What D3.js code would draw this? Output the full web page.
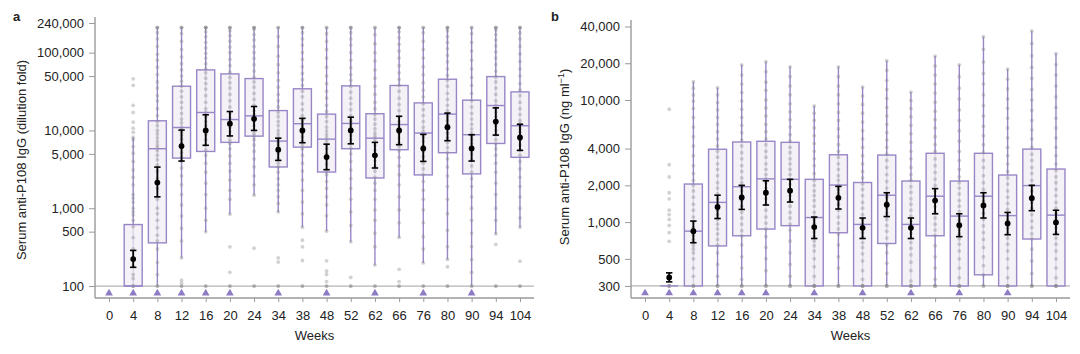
<!DOCTYPE html>
<html>
<head>
<meta charset="utf-8">
<style>
  html, body { margin: 0; padding: 0; background: #fff; }
  svg text { font-family: "Liberation Sans", Arial, sans-serif; fill: #222; }
</style>
</head>
<body>
<svg id="svg" width="1080" height="354"></svg>
<script src="https://cdn.jsdelivr.net/npm/d3@7"></script>
<script>
const weeks = [0, 4, 8, 12, 16, 20, 24, 34, 38, 48, 52, 62, 66, 76, 80, 90, 94, 104]
const belowLimitWeeks = [0, 4, 8, 12, 16, 20, 34, 48, 62, 76, 90]

// panel a: dilution fold
const aTicks = [100, 500, 1000, 5000, 10000, 50000, 100000, 240000]
const aQ1 = [null, 100, 359, 4410, 5370, 7020, 8450, 3390, 6100, 2920, 5820, 2450, 5650, 2680, 5170, 2760, 6800, 4510]
const aMedian = [null, 100, 5820, 10900, 17000, 13800, 15400, 7300, 12200, 7730, 12300, 7950, 11900, 9250, 16200, 8810, 20900, 11500]
const aQ3 = [null, 617, 13300, 37000, 60000, 53300, 46400, 18000, 34300, 16200, 37400, 16400, 37800, 22600, 45500, 24500, 49200, 31300]
const aWhiskerLo = [null, 100, 100, 230, 497, 837, 1470, 897, 570, 507, 370, 186, 421, 198, 220, 100, 468, 570]
const aWhiskerHi = [null, 8200, 210000, 210000, 210000, 210000, 210000, 210000, 210000, 210000, 210000, 210000, 210000, 210000, 210000, 210000, 210000, 210000]
const aMean = [null, 222, 2140, 6300, 10000, 12200, 14100, 5650, 10000, 4550, 10000, 4790, 10000, 5880, 11000, 5880, 13000, 8120]
const aCiLo = [null, 174, 1400, 4040, 6440, 8500, 10000, 4120, 6950, 3130, 6740, 3290, 6560, 4000, 7380, 4040, 8710, 5540]
const aCiHi = [null, 287, 3380, 10100, 15900, 17500, 20300, 7950, 14300, 6660, 14800, 7020, 15200, 8890, 16700, 8810, 19500, 12000]
const aPoints = [
  [],
  [46000, 38000, 21000, 17000, 12800, 10700, 9500, 8200, 7600, 6200, 5100, 4000, 3100, 2500, 2000, 1500, 1350, 1200, 1000, 900, 820, 700, 580, 420, 300, 230, 180, 140, 125, 100, 100, 100],
  [210000, 210000, 210000, 180000, 150000, 120000, 95000, 80000, 65000, 52000, 42000, 35000, 28000, 24000, 19000, 15500, 13000, 11500, 10000, 9000, 8000, 7200, 6500, 6000, 5500, 4800, 4200, 3600, 3000, 2400, 1800, 1300, 1000, 850, 700, 560, 450, 380, 300, 200, 140, 100, 100],
  [210000, 210000, 210000, 175000, 140000, 110000, 88000, 72000, 60000, 50000, 43000, 37000, 32000, 27000, 23000, 19500, 16500, 14000, 12500, 11000, 10500, 9500, 8600, 7700, 6800, 6000, 5200, 4500, 4000, 3300, 2600, 2000, 1500, 1100, 800, 550, 380, 230, 119, 109, 100, 100],
  [210000, 210000, 210000, 210000, 185000, 160000, 135000, 115000, 98000, 85000, 72000, 62000, 55000, 47000, 40000, 34000, 28000, 23000, 19000, 17000, 15000, 13000, 11500, 10000, 8800, 7600, 6500, 5600, 4800, 3800, 2900, 2100, 1500, 1000, 700, 497, 100, 100],
  [210000, 210000, 210000, 190000, 165000, 140000, 118000, 100000, 82000, 68000, 56000, 48000, 41000, 35000, 29000, 24000, 20000, 16500, 14500, 13000, 12000, 10800, 9600, 8500, 7500, 6800, 5800, 4700, 3800, 3000, 2300, 1700, 1300, 837, 319, 150, 100, 100],
  [210000, 210000, 210000, 200000, 170000, 145000, 120000, 100000, 84000, 70000, 58000, 48000, 42000, 36000, 30000, 25000, 21000, 18000, 16000, 14500, 13000, 11500, 10200, 9200, 8500, 7600, 6500, 5400, 4300, 3400, 2600, 2000, 1470, 307, 100, 100],
  [210000, 210000, 160000, 120000, 90000, 70000, 55000, 44000, 36000, 29000, 24000, 20000, 17000, 15000, 13000, 11500, 10000, 9000, 8200, 7500, 7000, 6400, 5700, 5000, 4400, 3800, 3400, 2900, 2400, 2000, 1700, 1400, 1150, 897, 230, 203, 100, 100],
  [210000, 210000, 210000, 180000, 150000, 125000, 100000, 82000, 66000, 54000, 45000, 38000, 32000, 27000, 22000, 18500, 15500, 13500, 12500, 11500, 10500, 9300, 8300, 7300, 6500, 5800, 4800, 3800, 3000, 2300, 1700, 1200, 850, 570, 389, 319, 213, 100, 100],
  [210000, 210000, 175000, 140000, 110000, 85000, 65000, 50000, 40000, 32000, 26000, 21000, 17500, 15000, 13000, 11000, 9800, 8800, 8000, 7300, 6500, 5800, 5000, 4300, 3700, 3100, 2700, 2200, 1800, 1400, 1100, 800, 507, 211, 156, 141, 114, 100, 100],
  [210000, 210000, 210000, 180000, 150000, 125000, 100000, 80000, 64000, 52000, 44000, 37000, 31000, 26000, 22000, 18500, 15500, 13500, 12600, 11800, 10800, 9700, 8600, 7600, 6700, 5900, 5000, 4000, 3100, 2400, 1800, 1300, 900, 600, 370, 129, 100, 100],
  [210000, 210000, 170000, 130000, 100000, 78000, 60000, 47000, 37000, 29000, 23000, 19000, 16000, 14000, 12000, 10500, 9300, 8500, 7900, 7200, 6400, 5600, 4900, 4100, 3500, 3000, 2500, 2100, 1700, 1300, 950, 700, 480, 320, 186, 100, 100],
  [210000, 210000, 210000, 185000, 155000, 128000, 105000, 85000, 68000, 55000, 45000, 38000, 32000, 26000, 21500, 18000, 15000, 13000, 12000, 11000, 10000, 9000, 8000, 7000, 6200, 5500, 4500, 3500, 2700, 2000, 1400, 950, 650, 421, 164, 114, 100, 100],
  [210000, 210000, 180000, 140000, 110000, 85000, 66000, 52000, 41000, 33000, 27000, 22000, 18500, 15500, 13000, 11000, 9800, 9000, 8200, 7300, 6300, 5400, 4600, 3800, 3200, 2700, 2200, 1700, 1300, 950, 650, 430, 300, 198, 100, 100],
  [210000, 210000, 210000, 190000, 160000, 135000, 112000, 92000, 76000, 62000, 51000, 44000, 37000, 30000, 25000, 21000, 18000, 16500, 15000, 13500, 12000, 10500, 9200, 8000, 7000, 6000, 5200, 4300, 3400, 2600, 1900, 1300, 850, 520, 320, 220, 177, 100, 100],
  [210000, 210000, 175000, 135000, 105000, 80000, 62000, 48000, 38000, 30000, 24000, 20000, 16500, 14000, 12000, 10500, 9300, 8500, 7700, 6800, 5900, 5000, 4200, 3500, 2900, 2400, 1900, 1400, 1000, 700, 480, 320, 220, 150, 100, 100],
  [210000, 210000, 210000, 195000, 170000, 145000, 122000, 102000, 85000, 70000, 58000, 49000, 42000, 35000, 29000, 24000, 21000, 19000, 17000, 15000, 13000, 11500, 10000, 8800, 7600, 6700, 5800, 4800, 3800, 2900, 2100, 1500, 1000, 700, 468, 343, 100, 100],
  [210000, 210000, 210000, 180000, 150000, 120000, 96000, 77000, 62000, 50000, 40000, 33000, 28000, 23000, 19000, 16000, 13500, 12200, 11500, 10500, 9500, 8500, 7500, 6500, 5600, 4800, 4000, 3200, 2500, 1900, 1400, 1000, 750, 570, 209, 100, 100]
]

// panel b: ng/ml
const bTicks = [300, 500, 1000, 2000, 4000, 10000, 20000, 40000]
const bQ1 = [null, 300, 300, 638, 773, 877, 935, 300, 818, 300, 668, 300, 773, 300, 370, 300, 727, 300]
const bMedian = [null, 300, 843, 1450, 1950, 2260, 2240, 1090, 2010, 957, 1660, 957, 1630, 1120, 1630, 1130, 1990, 1140]
const bQ3 = [null, 300, 2050, 3950, 4530, 4590, 4500, 2240, 3560, 2110, 3540, 2170, 3660, 2170, 3660, 2430, 3960, 2720]
const bWhiskerLo = [null, 300, 300, 300, 300, 300, 300, 300, 300, 300, 300, 300, 300, 300, 300, 300, 300, 300]
const bWhiskerHi = [null, 300, 14100, 12600, 19400, 20600, 18700, 8930, 18700, 12800, 21000, 11600, 22900, 19400, 33000, 17900, 36800, 24000]
const bMean = [null, 352, 843, 1330, 1590, 1740, 1810, 910, 1580, 898, 1390, 898, 1500, 944, 1370, 975, 1570, 993]
const bCiLo = [null, 324, 678, 1070, 1270, 1380, 1460, 734, 1280, 734, 1110, 734, 1170, 760, 1080, 788, 1240, 793]
const bCiHi = [null, 384, 1020, 1660, 2000, 2180, 2240, 1100, 1960, 1080, 1740, 1080, 1880, 1170, 1740, 1200, 2000, 1250]
const bPoints = [
  [],
  [8400, 2950, 2340, 1740, 1550, 1250, 1150, 1050, 940, 820, 696, 300, 300, 300, 300],
  [14100, 12500, 11000, 9800, 8500, 7200, 6000, 5000, 4200, 3500, 2900, 2500, 2200, 2000, 1800, 1600, 1400, 1250, 1100, 1000, 900, 840, 780, 720, 680, 640, 600, 560, 500, 420, 360, 300, 300, 300],
  [12600, 11000, 9500, 8300, 7200, 6300, 5500, 4800, 4200, 3800, 3400, 3000, 2700, 2400, 2100, 1900, 1700, 1550, 1450, 1350, 1250, 1150, 1050, 960, 880, 800, 720, 650, 560, 450, 360, 300, 300, 300],
  [19400, 16000, 13500, 11500, 9800, 8400, 7200, 6200, 5400, 4700, 4200, 3700, 3300, 2900, 2600, 2300, 2100, 1950, 1800, 1650, 1500, 1350, 1200, 1080, 960, 850, 770, 650, 520, 420, 340, 300, 300, 300],
  [20600, 17000, 14000, 12000, 10000, 8600, 7400, 6300, 5500, 4800, 4300, 3800, 3400, 3000, 2700, 2450, 2260, 2100, 1900, 1700, 1550, 1400, 1250, 1100, 980, 880, 760, 620, 500, 400, 300, 300, 300],
  [18700, 15500, 13000, 11000, 9300, 8000, 6900, 6000, 5200, 4600, 4100, 3700, 3300, 3000, 2700, 2450, 2240, 2050, 1850, 1650, 1500, 1350, 1200, 1080, 960, 860, 700, 560, 450, 360, 300, 300, 300],
  [8930, 7800, 6800, 5900, 5100, 4400, 3800, 3300, 2900, 2500, 2200, 2000, 1800, 1650, 1500, 1350, 1200, 1100, 1050, 980, 900, 830, 760, 700, 640, 580, 500, 430, 360, 300, 300, 300, 300],
  [18700, 15500, 13000, 11000, 9300, 7900, 6800, 5800, 5000, 4300, 3800, 3400, 3000, 2700, 2400, 2200, 2010, 1850, 1700, 1550, 1400, 1250, 1100, 980, 880, 800, 650, 520, 420, 300, 300, 300],
  [12800, 10800, 9200, 7800, 6600, 5600, 4800, 4100, 3500, 3000, 2600, 2300, 2050, 1850, 1650, 1450, 1300, 1150, 1050, 960, 890, 820, 750, 680, 620, 550, 480, 400, 340, 300, 300, 300, 300],
  [21000, 17500, 14500, 12200, 10300, 8700, 7400, 6300, 5400, 4700, 4100, 3600, 3200, 2800, 2450, 2150, 1900, 1700, 1600, 1450, 1300, 1180, 1050, 940, 840, 740, 650, 560, 460, 380, 300, 300, 300],
  [11600, 9900, 8500, 7300, 6200, 5300, 4500, 3800, 3300, 2800, 2450, 2200, 1950, 1750, 1550, 1400, 1250, 1120, 1020, 950, 880, 810, 740, 680, 610, 540, 470, 400, 330, 300, 300, 300, 300],
  [22900, 19000, 16000, 13500, 11400, 9600, 8100, 6900, 5900, 5000, 4300, 3800, 3300, 2900, 2550, 2250, 2000, 1800, 1630, 1480, 1340, 1200, 1080, 960, 860, 780, 640, 520, 420, 340, 300, 300, 300],
  [19400, 15500, 12500, 10200, 8300, 6800, 5600, 4600, 3800, 3200, 2700, 2350, 2100, 1900, 1700, 1500, 1350, 1220, 1120, 1040, 960, 880, 800, 730, 660, 580, 500, 420, 350, 300, 300, 300, 300],
  [33000, 26000, 20500, 16500, 13500, 11000, 9000, 7400, 6100, 5100, 4300, 3700, 3200, 2800, 2400, 2100, 1850, 1630, 1480, 1330, 1180, 1050, 930, 820, 720, 620, 520, 440, 370, 300, 300],
  [17900, 14800, 12300, 10200, 8500, 7100, 5900, 4900, 4100, 3500, 3000, 2600, 2300, 2050, 1800, 1600, 1420, 1270, 1130, 1050, 970, 890, 810, 740, 660, 580, 500, 420, 350, 300, 300, 300, 300],
  [36800, 29000, 23000, 18500, 15000, 12200, 10000, 8200, 6800, 5700, 4800, 4100, 3600, 3200, 2800, 2500, 2200, 1990, 1800, 1620, 1450, 1300, 1150, 1020, 900, 800, 727, 600, 480, 380, 300, 300, 300],
  [24000, 19500, 16000, 13000, 10600, 8700, 7100, 5900, 4900, 4100, 3500, 3000, 2650, 2350, 2100, 1850, 1650, 1450, 1300, 1180, 1080, 990, 900, 820, 740, 660, 580, 500, 420, 350, 300, 300, 300, 300]
]

const purple = "#9886c7"
const boxFill = "#f4f1f7"
const svg = d3.select("#svg")

function drawPanel(p) {
  const x = d3.scalePoint().domain(weeks).range([p.left, p.right]).padding(0.58)
  const y = d3.scaleLog().domain(p.domain).range([298, p.top])
  const g = svg.append("g")
  const boxW = 18
  const rows = weeks.map((w, i) => ({
    w, q1: p.q1[i], med: p.median[i], q3: p.q3[i], lo: p.wlo[i], hi: p.whi[i],
    mean: p.mean[i], ciLo: p.ciLo[i], ciHi: p.ciHi[i], pts: p.points[i]
  })).filter(d => d.q1 != null)

  // detection limit line
  g.append("line")
    .attr("x1", p.left).attr("x2", p.right)
    .attr("y1", y(p.limit)).attr("y2", y(p.limit))
    .attr("stroke", "#b5b5b5").attr("stroke-width", 1.2)

  // whiskers
  g.selectAll(".whisker").data(rows).enter().append("line")
    .attr("x1", d => x(d.w)).attr("x2", d => x(d.w))
    .attr("y1", d => y(d.lo)).attr("y2", d => y(d.hi))
    .attr("stroke", purple).attr("stroke-width", 1.4)

  // boxes
  g.selectAll(".box").data(rows).enter().append("rect")
    .attr("x", d => x(d.w) - boxW / 2)
    .attr("y", d => y(d.q3))
    .attr("width", boxW)
    .attr("height", d => Math.max(0, y(d.q1) - y(d.q3)))
    .attr("fill", boxFill)
    .attr("stroke", purple).attr("stroke-width", 1.4)

  // whisker faintly visible through the box
  g.selectAll(".whisker2").data(rows).enter().append("line")
    .attr("x1", d => x(d.w)).attr("x2", d => x(d.w))
    .attr("y1", d => y(d.q1)).attr("y2", d => y(d.q3))
    .attr("stroke", purple).attr("stroke-width", 1.2).attr("stroke-opacity", 0.3)

  // individual points
  rows.forEach(d => {
    g.selectAll(null).data(d.pts).enter().append("circle")
      .attr("cx", x(d.w)).attr("cy", v => y(v)).attr("r", 1.9)
      .attr("fill", "#8a8a8a").attr("fill-opacity", 0.38)
  })

  // medians
  g.selectAll(".median").data(rows).enter().append("line")
    .attr("x1", d => x(d.w) - boxW / 2).attr("x2", d => x(d.w) + boxW / 2)
    .attr("y1", d => y(d.med)).attr("y2", d => y(d.med))
    .attr("stroke", purple).attr("stroke-width", 1.4)

  // mean and 95% CI
  const ci = g.selectAll(".ci").data(rows).enter().append("g")
  ci.append("line")
    .attr("x1", d => x(d.w)).attr("x2", d => x(d.w))
    .attr("y1", d => y(d.ciLo)).attr("y2", d => y(d.ciHi))
    .attr("stroke", "#000").attr("stroke-width", 1.8)
  ci.append("line")
    .attr("x1", d => x(d.w) - 3.2).attr("x2", d => x(d.w) + 3.2)
    .attr("y1", d => y(d.ciLo)).attr("y2", d => y(d.ciLo))
    .attr("stroke", "#000").attr("stroke-width", 1.6)
  ci.append("line")
    .attr("x1", d => x(d.w) - 3.2).attr("x2", d => x(d.w) + 3.2)
    .attr("y1", d => y(d.ciHi)).attr("y2", d => y(d.ciHi))
    .attr("stroke", "#000").attr("stroke-width", 1.6)
  ci.append("circle")
    .attr("cx", d => x(d.w)).attr("cy", d => y(d.mean)).attr("r", 2.9)
    .attr("fill", "#000")

  // below-limit triangles
  g.selectAll(".tri").data(belowLimitWeeks).enter().append("path")
    .attr("d", d3.symbol(d3.symbolTriangle, 26))
    .attr("transform", d => `translate(${x(d)},${y(p.triangleAt)})`)
    .attr("fill", "#8d7bc3")

  // axes
  const yAxis = g.append("g")
    .attr("transform", `translate(${p.left},0)`)
    .call(d3.axisLeft(y).tickValues(p.ticks).tickFormat(d3.format(",")).tickSize(6).tickSizeOuter(0).tickPadding(5))
  const xAxis = g.append("g")
    .attr("transform", `translate(0,298)`)
    .call(d3.axisBottom(x).tickSize(4).tickSizeOuter(0).tickPadding(9))
  ;[yAxis, xAxis].forEach(a => {
    a.select(".domain").attr("stroke", "#9a9a9a").attr("stroke-width", 1.4)
    a.selectAll(".tick line").attr("stroke", "#9a9a9a")
    a.selectAll("text").style("font-size", "13px").attr("fill", "#222")
  })
  yAxis.select(".domain").attr("d", `M0,${p.top}V298`)
  xAxis.select(".domain").attr("d", `M${p.left},0H${p.right}`)

  g.append("text")
    .attr("x", (p.left + p.right) / 2).attr("y", 340)
    .attr("text-anchor", "middle").style("font-size", "13px")
    .text("Weeks")

  const yl = g.append("text")
    .attr("transform", `translate(${p.labelX},${p.labelY}) rotate(-90)`)
    .attr("text-anchor", "middle").attr("dy", "0.35em").style("font-size", "13px")
  p.label(yl)

  g.append("text")
    .attr("x", p.letterX).attr("y", 21)
    .style("font-size", "13px").style("font-weight", "bold")
    .text(p.letter)
}

drawPanel({
  left: 95, right: 534, top: 17, domain: [70.2, 287000], limit: 100, triangleAt: 81,
  ticks: aTicks, q1: aQ1, median: aMedian, q3: aQ3, wlo: aWhiskerLo, whi: aWhiskerHi,
  mean: aMean, ciLo: aCiLo, ciHi: aCiHi, points: aPoints,
  labelX: 21, labelY: 160, letter: "a", letterX: 13,
  label: t => t.text("Serum anti-P108 IgG (dilution fold)")
})

drawPanel({
  left: 631, right: 1070, top: 20, domain: [239, 45200], limit: 300, triangleAt: 262,
  ticks: bTicks, q1: bQ1, median: bMedian, q3: bQ3, wlo: bWhiskerLo, whi: bWhiskerHi,
  mean: bMean, ciLo: bCiLo, ciHi: bCiHi, points: bPoints,
  labelX: 564, labelY: 157, letter: "b", letterX: 551,
  label: t => {
    t.append("tspan").text("Serum anti-P108 IgG (ng ml")
    t.append("tspan").attr("baseline-shift", "super").style("font-size", "9px").text("\u22121")
    t.append("tspan").text(")")
  }
})
</script>
</body>
</html>
